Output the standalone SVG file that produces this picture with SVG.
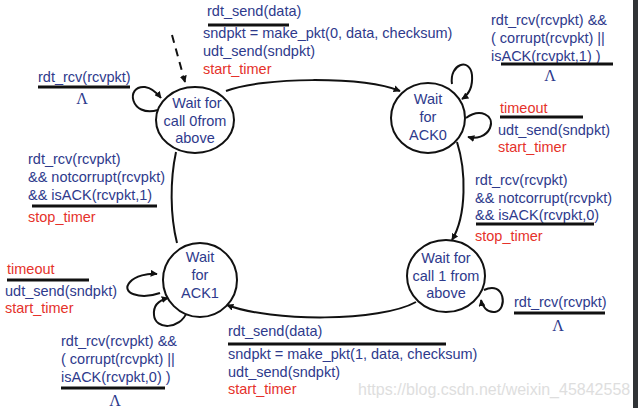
<svg xmlns="http://www.w3.org/2000/svg" width="638" height="408" viewBox="0 0 638 408">
<style>
text{font-family:"Liberation Sans",Arial,sans-serif;font-size:14.5px;fill:#2e3a8c}
.r{fill:#e5322b}
.st text{text-anchor:middle}
.st ellipse{fill:#fff;stroke:#111;stroke-width:2}
.e{fill:none;stroke:#111;stroke-width:2}
.bar{stroke:#111;stroke-width:3}
.lam{font-family:"Liberation Serif","Times New Roman",serif;font-size:16px;text-anchor:middle}
.wm{fill:#dedede;font-size:16px}
</style>
<defs>
<marker id="ah" viewBox="0 0 10 10" refX="9" refY="5" markerWidth="7" markerHeight="7" markerUnits="userSpaceOnUse" orient="auto">
<path d="M0,0 L10,5 L0,10 z" fill="#111"/>
</marker>
</defs>
<rect width="638" height="408" fill="#fff"/>
<rect x="633" y="0" width="5" height="408" fill="#303336"/>
<text class="wm" x="358" y="395">https://blog.csdn.net/weixin_45842558</text>

<g id="connectors">
<path class="e" d="M172,35 L185,82" stroke-dasharray="8,6" stroke-width="2.5" marker-end="url(#ah)"/>
<path class="e" d="M226,91 C262,77 362,76 400,91" marker-end="url(#ah)"/>
<path class="e" d="M457,142 C466,170 467,215 452,240" marker-end="url(#ah)"/>
<path class="e" d="M416,302 C380,322 272,322 227,305" marker-end="url(#ah)"/>
<path class="e" d="M177,243 C170,215 170,180 176,152"/>
<path class="e" d="M158,110 C130,118 125,85 145,87 C152,88 157,93 161,98" marker-end="url(#ah)"/>
<path class="e" d="M452,84 C449,64 470,57 472,75 C473,88 468,95 462,99" marker-end="url(#ah)"/>
<path class="e" d="M466,118 C480,108 495,115 490,128 C486,137 476,139 468,137" marker-end="url(#ah)"/>
<path class="e" d="M484,290 C505,280 508,310 495,312 C487,313 482,306 481,300" marker-end="url(#ah)"/>
<path class="e" d="M160,293 C140,300 120,293 130,282 C135,276 148,273 157,274" marker-end="url(#ah)"/>
<path class="e" d="M187,312 C180,330 155,330 154,315 C153,305 160,300 168,298" marker-end="url(#ah)"/>
</g>

<g id="s0" class="st">
<ellipse cx="195" cy="120" rx="39" ry="33"/>
<text x="197" y="108">Wait for</text>
<text x="195" y="126">call 0from</text>
<text x="195" y="143">above</text>
</g>
<g id="ack0" class="st">
<ellipse cx="428" cy="118" rx="37" ry="35"/>
<text x="428" y="104">Wait</text>
<text x="428" y="122">for</text>
<text x="428" y="140">ACK0</text>
</g>
<g id="ack1" class="st">
<ellipse cx="200" cy="280" rx="37" ry="37"/>
<text x="200" y="262">Wait</text>
<text x="200" y="280">for</text>
<text x="200" y="298">ACK1</text>
</g>
<g id="s1" class="st">
<ellipse cx="446" cy="276" rx="39" ry="36"/>
<text x="446" y="263">Wait for</text>
<text x="446" y="281">call 1 from</text>
<text x="446" y="298">above</text>
</g>

<g id="labels">
<text x="207" y="16">rdt_send(data)</text>
<line class="bar" x1="208" y1="25" x2="289" y2="25"/>
<text x="203" y="38">sndpkt = make_pkt(0, data, checksum)</text>
<text x="203" y="56">udt_send(sndpkt)</text>
<text class="r" x="203" y="74">start_timer</text>

<text x="38" y="82">rdt_rcv(rcvpkt)</text>
<line class="bar" x1="38" y1="87" x2="130" y2="87"/>
<text class="lam" x="82" y="104">Λ</text>

<text x="28" y="164">rdt_rcv(rcvpkt)</text>
<text x="28" y="182">&amp;&amp; notcorrupt(rcvpkt)</text>
<text x="28" y="200">&amp;&amp; isACK(rcvpkt,1)</text>
<line class="bar" x1="32" y1="206" x2="157" y2="206"/>
<text class="r" x="28" y="222">stop_timer</text>

<text x="491" y="25">rdt_rcv(rcvpkt) &amp;&amp;</text>
<text x="491" y="43">( corrupt(rcvpkt) ||</text>
<text x="491" y="61">isACK(rcvpkt,1) )</text>
<line class="bar" x1="501" y1="64" x2="613" y2="64"/>
<text class="lam" x="550" y="81">Λ</text>

<text class="r" x="500" y="113">timeout</text>
<line class="bar" x1="500" y1="117" x2="583" y2="117"/>
<text x="498" y="135">udt_send(sndpkt)</text>
<text class="r" x="498" y="152">start_timer</text>

<text x="475" y="185">rdt_rcv(rcvpkt)</text>
<text x="475" y="203">&amp;&amp; notcorrupt(rcvpkt)</text>
<text x="475" y="220">&amp;&amp; isACK(rcvpkt,0)</text>
<line class="bar" x1="476" y1="224" x2="594" y2="224"/>
<text class="r" x="475" y="241">stop_timer</text>

<text x="514" y="307">rdt_rcv(rcvpkt)</text>
<line class="bar" x1="514" y1="313" x2="605" y2="313"/>
<text class="lam" x="558" y="331">Λ</text>

<text class="r" x="7" y="274">timeout</text>
<line class="bar" x1="7" y1="280" x2="89" y2="280"/>
<text x="5" y="296">udt_send(sndpkt)</text>
<text class="r" x="5" y="313">start_timer</text>

<text x="61" y="346">rdt_rcv(rcvpkt) &amp;&amp;</text>
<text x="61" y="364">( corrupt(rcvpkt) ||</text>
<text x="61" y="382">isACK(rcvpkt,0) )</text>
<line class="bar" x1="61" y1="388" x2="165" y2="388"/>
<text class="lam" x="115" y="406">Λ</text>

<text x="228" y="336">rdt_send(data)</text>
<line class="bar" x1="228" y1="344" x2="446" y2="344"/>
<text x="228" y="359">sndpkt = make_pkt(1, data, checksum)</text>
<text x="228" y="377">udt_send(sndpkt)</text>
<text class="r" x="228" y="394">start_timer</text>
</g>
</svg>
